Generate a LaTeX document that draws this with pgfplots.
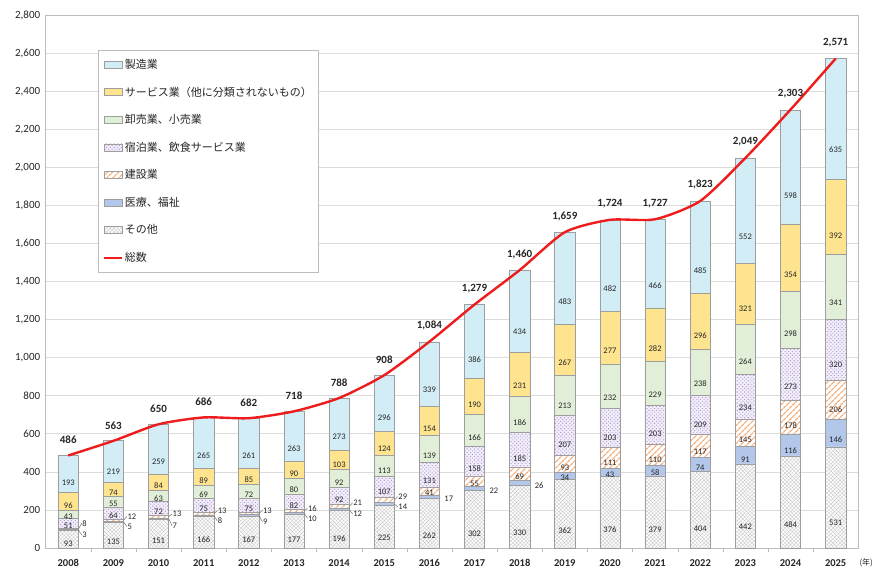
\documentclass[border=0pt]{standalone}
\usepackage{pgfplots}
\pgfplotsset{compat=1.18}
\usepackage{pgfplotstable}
\usetikzlibrary{patterns,patterns.meta}
\usepackage{fontspec}
\setmainfont{Carlito}
\newfontfamily\cjk{Noto Sans CJK JP}

\definecolor{cMfg}{HTML}{D2EDF6}
\definecolor{cSvc}{HTML}{FFE490}
\definecolor{cWhl}{HTML}{E2EFD8}
\definecolor{cAcc}{HTML}{B49CDA}
\definecolor{cCon}{HTML}{F4AD78}
\definecolor{cMed}{HTML}{B3C7EA}
\definecolor{cOth}{HTML}{C4C4C4}
\definecolor{cEdge}{HTML}{9E9E9E}
\definecolor{cLine}{HTML}{EE1C1C}
\definecolor{cGrid}{HTML}{DCDCDC}
\definecolor{cFrame}{HTML}{BDBDBD}
\definecolor{cTxt}{HTML}{262626}

\pgfplotsset{
  mybox/.style={legend image code/.code={\draw[##1] (0pt,-3.5pt) rectangle (18pt,3.5pt);}},
  myline/.style={legend image code/.code={\draw[##1] (0pt,0pt) -- (18pt,0pt);}},
}

\pgfplotstableread{
x oth med con acc whl svc mfg tot medl conl totl
0 93 3 8 51 43 96 193 486 {} {} 486
1 135 5 12 64 55 74 219 563 {} {} 563
2 151 7 13 72 63 84 259 650 {} {} 650
3 166 8 13 75 69 89 265 686 {} {} 686
4 167 9 13 75 72 85 261 682 {} {} 682
5 177 10 16 82 80 90 263 718 {} {} 718
6 196 12 21 92 92 103 273 788 {} {} 788
7 225 14 29 107 113 124 296 908 {} {} 908
8 262 17 41 131 139 154 339 1084 {} 41 1,084
9 302 22 55 158 166 190 386 1279 {} 55 1,279
10 330 26 69 185 186 231 434 1460 {} 69 1,460
11 362 34 93 207 213 267 483 1659 34 93 1,659
12 376 43 111 203 232 277 482 1724 43 111 1,724
13 379 58 110 203 229 282 466 1727 58 110 1,727
14 404 74 117 209 238 296 485 1823 74 117 1,823
15 442 91 145 234 264 321 552 2049 91 145 2,049
16 484 116 178 273 298 354 598 2303 116 178 2,303
17 531 146 206 320 341 392 635 2571 146 206 2,571
}\datatable

\pgfplotstableread{
x y lab
0.31 130 8
0.31 68 3
1.31 166 12
1.31 113 5
2.31 179 13
2.31 117 7
3.31 196 13
3.31 143 8
4.31 196 13
4.31 138 9
5.31 209 16
5.31 156 10
6.31 238 21
6.31 179 12
7.31 270 29
7.31 215 14
8.33 261 17
9.33 301 22
10.33 330 26
}\outtable

\begin{document}
\begin{tikzpicture}
\begin{axis}[
  at={(0pt,0pt)}, anchor=south west,
  x=45.14pt, y=0.19036pt,
  xmin=-0.5, xmax=17.5, ymin=0, ymax=2800,
  enlargelimits=false,
  ybar stacked, bar width=0.45,
  xtick={0,...,17},
  xticklabels={2008,2009,2010,2011,2012,2013,2014,2015,2016,2017,2018,2019,2020,2021,2022,2023,2024,2025},
  minor xtick={0.5,1.5,...,16.5},
  ytick={0,200,...,2800},
  tick pos=left,
  ymajorgrids, major grid style={cGrid, line width=0.6pt},
  axis line style={cFrame, line width=0.8pt},
  tick align=outside,
  major tick length=0pt, minor tick length=4pt,
  minor tick style={cFrame},
  xticklabel style={font=\bfseries\fontsize{10.5}{12}\selectfont, text=cTxt, yshift=-8pt},
  yticklabel style={font=\fontsize{11}{12}\selectfont, text=cTxt, xshift=-2pt},
  /pgf/number format/assume math mode=true,
  /pgf/number format/1000 sep={,},
  point meta=explicit symbolic,
  nodes near coords,
  nodes near coords align=center,
  visualization depends on=rawy \as \val,
  every node near coord/.append style={font=\fontsize{8.5}{9}\selectfont, text=cTxt, anchor=center, yshift=-0.04759pt*\val, inner sep=0pt},
  legend style={at={(0.0644,0.9343)}, anchor=north west, draw=cFrame, fill=white,
    font=\cjk\fontsize{11}{13}\selectfont, text=cTxt, row sep=13.8pt,
    inner xsep=5pt, inner ysep=7.5pt, nodes={inner sep=1.5pt}},
  legend cell align=left,
  reverse legend,
]
\addlegendimage{myline, cLine, line width=2.2pt}
\addplot[mybox, fill=white, draw=cEdge, line width=0.5pt,
  postaction={pattern={Hatch[angle=45,distance=2.6pt,line width=0.3pt]}, pattern color=cOth}]
  table[x=x,y=oth,meta=oth]{\datatable};
\addplot[mybox, fill=cMed, draw=cEdge, line width=0.5pt]
  table[x=x,y=med,meta=medl]{\datatable};
\addplot[mybox, fill=white, draw=cEdge, line width=0.5pt,
  postaction={pattern={Lines[angle=45,distance=4pt,line width=1.3pt]}, pattern color=cCon}]
  table[x=x,y=con,meta=conl]{\datatable};
\addplot[mybox, fill=cAcc!15, draw=cEdge, line width=0.5pt,
  postaction={pattern={Dots[angle=45,distance=2.6pt,radius=0.75pt]}, pattern color=cAcc}]
  table[x=x,y=acc,meta=acc]{\datatable};
\addplot[mybox, fill=cWhl, draw=cEdge, line width=0.5pt]
  table[x=x,y=whl,meta=whl]{\datatable};
\addplot[mybox, fill=cSvc, draw=cEdge, line width=0.5pt]
  table[x=x,y=svc,meta=svc]{\datatable};
\addplot[mybox, fill=cMfg, draw=cEdge, line width=0.5pt]
  table[x=x,y=mfg,meta=mfg]{\datatable};
\legend{総数,その他,医療、福祉,建設業,宿泊業、飲食サービス業,卸売業、小売業,サービス業（他に分類されないもの）,製造業}
\end{axis}

\begin{axis}[
  at={(0pt,0pt)}, anchor=south west,
  x=45.14pt, y=0.19036pt,
  xmin=-0.5, xmax=17.5, ymin=0, ymax=2800,
  enlargelimits=false, hide axis, clip=false,
]
\addplot[cLine, line width=2.4pt, smooth, tension=0.4] table[x=x,y=tot]{\datatable};
\addplot[draw=none, mark=none, point meta=explicit symbolic, nodes near coords,
  nodes near coords align=south,
  every node near coord/.append style={font=\bfseries\fontsize{11}{12}\selectfont, text=cTxt, anchor=south, yshift=8pt}]
  table[x=x,y=tot,meta=totl]{\datatable};
\addplot[draw=none, mark=none, point meta=explicit symbolic, nodes near coords,
  nodes near coords align=west,
  every node near coord/.append style={font=\fontsize{8.5}{9}\selectfont, text=cTxt, anchor=west, inner sep=0pt}]
  table[x=x,y=y,meta=lab]{\outtable};
\addplot[black!55, line width=0.5pt, unbounded coords=jump] coordinates {
 (0.225,100) (0.30,130) (nan,nan) (0.225,94.5) (0.30,68) (nan,nan)
 (1.225,146) (1.30,166) (nan,nan) (1.225,137.5) (1.30,113) (nan,nan)
 (2.225,164.5) (2.30,179) (nan,nan) (2.225,154.5) (2.30,117) (nan,nan)
 (3.225,180.5) (3.30,196) (nan,nan) (3.225,170) (3.30,143) (nan,nan)
 (4.225,182.5) (4.30,196) (nan,nan) (4.225,171.5) (4.30,138) (nan,nan)
 (5.225,195) (5.30,209) (nan,nan) (5.225,182) (5.30,156) (nan,nan)
 (6.225,218.5) (6.30,238) (nan,nan) (6.225,202) (6.30,179) (nan,nan)
 (7.225,253.5) (7.30,270) (nan,nan) (7.225,232) (7.30,215)
};
\node[font=\cjk\fontsize{8}{9}\selectfont, text=cTxt, xshift=8pt, yshift=-15pt] at (rel axis cs:1,0) {(年)};
\end{axis}
\pgfresetboundingbox
\path (-45.7pt,-26pt) rectangle (829.3pt,548pt);
\end{tikzpicture}
\end{document}
